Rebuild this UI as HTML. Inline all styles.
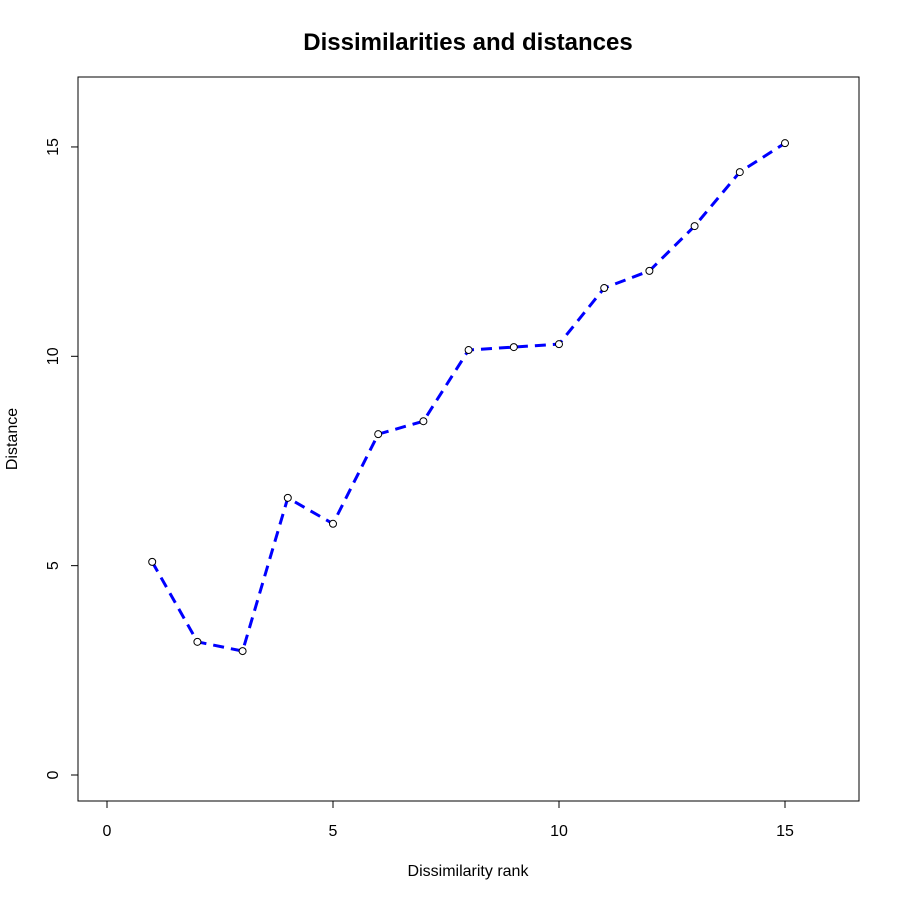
<!DOCTYPE html>
<html><head><meta charset="utf-8"><style>body{margin:0;background:#fff}svg{display:block}</style></head>
<body>
<svg id="chart" width="900" height="900" xmlns="http://www.w3.org/2000/svg" font-family="Liberation Sans, sans-serif">
<text x="468" y="50" text-anchor="middle" font-size="24" font-weight="bold">Dissimilarities and distances</text>
<rect x="78" y="77" width="781" height="724" fill="none" stroke="#000" stroke-width="1"/>
<g id="xaxis"></g>
<g id="yaxis"></g>
<text x="468" y="876" text-anchor="middle" font-size="16">Dissimilarity rank</text>
<text transform="translate(17,439) rotate(-90)" text-anchor="middle" font-size="16">Distance</text>
<g id="series"></g>
</svg>
<script>
const ranks=[1,2,3,4,5,6,7,8,9,10,11,12,13,14,15];
const distances=[5.09,3.18,2.96,6.62,6.0,8.14,8.45,10.15,10.22,10.29,11.63,12.04,13.11,14.4,15.09];
const xTicks=[0,5,10,15];
const yTicks=[0,5,10,15];
const NS="http://www.w3.org/2000/svg";
const sx=v=>107+v*45.2;
const sy=v=>775-v*41.87;
function mk(tag,attrs,parent){const e=document.createElementNS(NS,tag);for(const k in attrs)e.setAttribute(k,attrs[k]);parent.appendChild(e);return e;}
const xa=document.getElementById('xaxis'),ya=document.getElementById('yaxis'),sg=document.getElementById('series');
mk('line',{x1:sx(xTicks[0]),x2:sx(xTicks[xTicks.length-1]),y1:801,y2:801,stroke:'#000'},xa);
xTicks.forEach(t=>{
 const l=mk('line',{x1:sx(t),x2:sx(t),y1:801,y2:808,stroke:'#000'},xa);
 
 
 const tx=mk('text',{x:sx(t),y:836,'text-anchor':'middle','font-size':16},xa);tx.textContent=t;
 
 
});
mk('line',{x1:78,x2:78,y1:sy(yTicks[0]),y2:sy(yTicks[yTicks.length-1]),stroke:'#000'},ya);
yTicks.forEach(t=>{
 const l=mk('line',{x1:71,x2:78,y1:sy(t),y2:sy(t),stroke:'#000'},ya);
 
 
 const tx=mk('text',{transform:`translate(58,${sy(t)}) rotate(-90)`,'text-anchor':'middle','font-size':16},ya);tx.textContent=t;
 
 
});
const pts=ranks.map((r,i)=>sx(r)+','+sy(distances[i])).join(' ');
const pl=mk('polyline',{points:pts,fill:'none',stroke:'#0000ff','stroke-width':3,'stroke-dasharray':'11,7'},sg);


ranks.forEach((r,i)=>{
 const c=mk('circle',{cx:sx(r),cy:sy(distances[i]),r:3.5,fill:'#fff',stroke:'#000','stroke-width':1},sg);
 
 
});
</script>
</body></html>
